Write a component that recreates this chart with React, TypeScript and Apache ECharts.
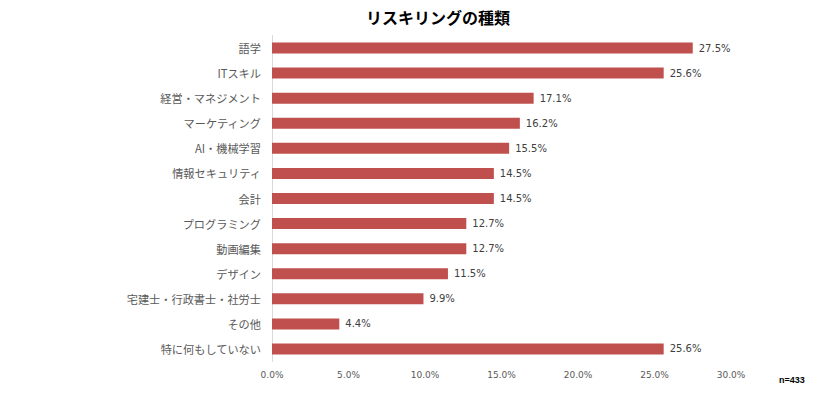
import React, { useEffect, useRef } from "react";
import * as echarts from "echarts";

const categories = [
  "語学",
  "ITスキル",
  "経営・マネジメント",
  "マーケティング",
  "AI・機械学習",
  "情報セキュリティ",
  "会計",
  "プログラミング",
  "動画編集",
  "デザイン",
  "宅建士・行政書士・社労士",
  "その他",
  "特に何もしていない",
];
const values = [27.5, 25.6, 17.1, 16.2, 15.5, 14.5, 14.5, 12.7, 12.7, 11.5, 9.9, 4.4, 25.6];
const title = "リスキリングの種類";
const note = "n=433";

export default function App() {
  const ref = useRef<HTMLDivElement>(null);
  useEffect(() => {
    if (!ref.current) return;
    const chart = echarts.init(ref.current, undefined, { renderer: "svg" });
    chart.setOption({
      animation: false,
      textStyle: { fontFamily: "'Noto Sans CJK JP', 'Noto Sans', sans-serif" },
      title: {
        text: title,
        left: 361,
        top: 4,
        textStyle: { fontSize: 16, fontWeight: "bold", color: "#000" },
      },
      graphic: [
        {
          type: "text",
          left: 779,
          top: 375,
          style: { text: note, fontSize: 9, fontWeight: "bold", fill: "#000", fontFamily: "Arial, sans-serif" },
        },
      ],
      grid: { left: 272, right: 107, top: 35.5, bottom: 32.5, containLabel: false },
      xAxis: {
        type: "value",
        min: 0,
        max: 30,
        interval: 5,
        axisLine: { show: false },
        axisTick: { show: false },
        splitLine: { show: false },
        axisLabel: {
          formatter: (v: number) => v.toFixed(1) + "%",
          fontSize: 9,
          fontFamily: "'DejaVu Sans', sans-serif",
          color: "#595959",
          margin: 9,
        },
      },
      yAxis: {
        type: "category",
        data: categories,
        inverse: true,
        axisLine: { show: true, lineStyle: { color: "#d9d9d9", width: 1 } },
        axisTick: { show: false },
        axisLabel: { fontSize: 11.2, color: "#595959", margin: 11 },
      },
      series: [
        {
          type: "bar",
          data: values,
          barWidth: 11,
          itemStyle: { color: "#C0504D" },
          label: {
            show: true,
            position: "right",
            distance: 6,
            formatter: (p: any) => p.value.toFixed(1) + "%",
            fontSize: 10,
            fontFamily: "'DejaVu Sans', sans-serif",
            color: "#404040",
          },
        },
      ],
    });
    return () => chart.dispose();
  }, []);
  return <div ref={ref} style={{ width: 838, height: 394, position: "absolute", left: 0, top: 0 }} />;
}
